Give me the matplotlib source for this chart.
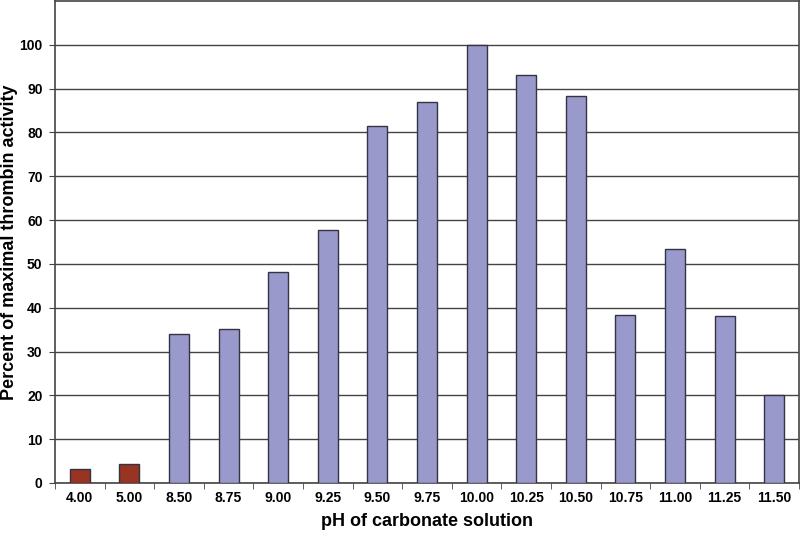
import matplotlib.pyplot as plt
import numpy as np

# pH values and activity (% of max)
ph_labels = ["4.00", "5.00", "8.50", "8.75", "9.00", "9.25", "9.50", "9.75",
             "10.00", "10.25", "10.50", "10.75", "11.00", "11.25", "11.50"]
activity = [3.3, 4.3, 34.0, 35.2, 48.1, 57.8, 81.5, 87.0,
            100.0, 93.1, 88.3, 38.3, 53.3, 38.1, 20.1]
bar_colors = ["#993322", "#993322"] + ["#9999CC"] * 13

plt.rcParams['font.family'] = ['Liberation Sans', 'DejaVu Sans']

fig = plt.figure(figsize=(8, 5.36), dpi=100)
ax = fig.add_axes([55 / 800, 53 / 536, 744 / 800, 482 / 536])

x = np.arange(len(ph_labels))
ax.bar(x, activity, width=0.4, color=bar_colors, edgecolor="#333344",
       linewidth=1.0, zorder=3)

ax.set_xlim(-0.5, len(ph_labels) - 0.5)
ax.set_ylim(0, 110)
ax.set_yticks(np.arange(0, 101, 10))
ax.yaxis.grid(True, color="#444444", linewidth=1.0, zorder=0)

ax.set_xticks(x)
ax.set_xticklabels(ph_labels, fontsize=10, fontweight="bold")
ax.set_xticks(np.arange(-0.5, len(ph_labels), 1), minor=True)
ax.tick_params(axis="x", which="major", length=0, pad=6)
ax.tick_params(axis="x", which="minor", length=4, direction="out", color="#444444")
ax.tick_params(axis="y", length=4, color="#444444", labelsize=10, pad=5)
for lbl in ax.get_yticklabels():
    lbl.set_fontweight("bold")

for sp in ax.spines.values():
    sp.set_color("#444444")
    sp.set_linewidth(1.2)

ax.set_xlabel("pH of carbonate solution", fontsize=13, fontweight="bold")
ax.xaxis.set_label_coords(0.5, -(522 - 483) / 482)
ax.xaxis.label.set_va("center")
ax.set_ylabel("Percent of maximal thrombin activity", fontsize=13, fontweight="bold")
ax.yaxis.set_label_coords(-(55 - 9) / 744, 0.5)
ax.yaxis.label.set_va("center")

fig.savefig("out.png", dpi=100)
